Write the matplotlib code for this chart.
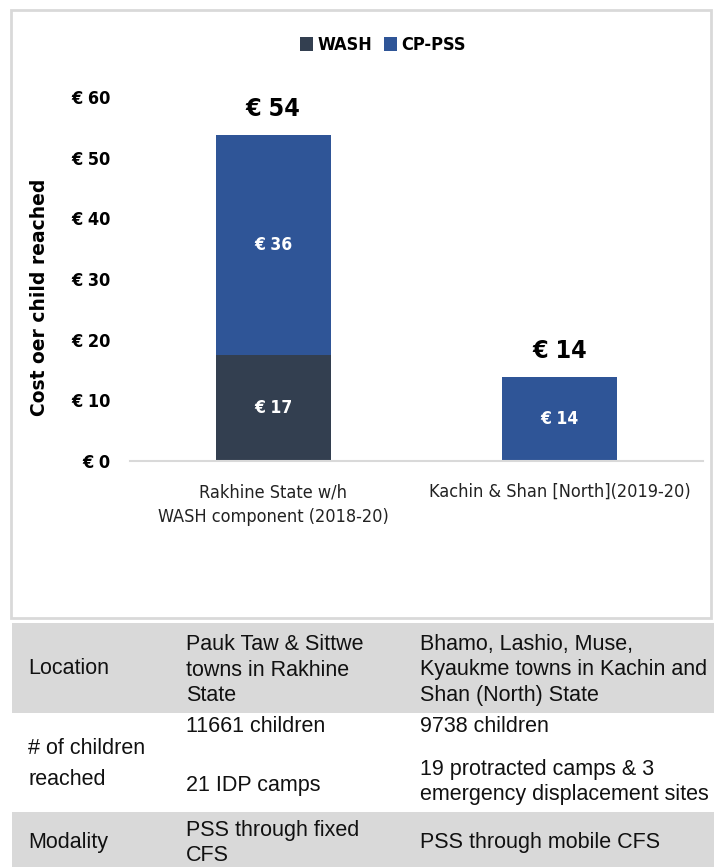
import matplotlib.pyplot as plt
from matplotlib.patches import Rectangle

# chart data
categories = ['Rakhine State w/h\nWASH component (2018-20)', 'Kachin & Shan [North](2019-20)']
wash = [17.4, 0.0]
cp_pss = [36.4, 13.8]
wash_labels = ['€ 17', '']
cp_labels = ['€ 36', '€ 14']
yticks = [0, 10, 20, 30, 40, 50, 60]

# table under the chart
row_heads = ['Location', '# of children\nreached', 'Modality']
col_rakhine = ['Pauk Taw & Sittwe\ntowns in Rakhine\nState', '11661 children', '21 IDP camps',
               'PSS through fixed\nCFS']
col_kachin = ['Bhamo, Lashio, Muse,\nKyaukme towns in Kachin and\nShan (North) State', '9738 children',
              '19 protracted camps & 3\nemergency displacement sites', 'PSS through mobile CFS']

c_wash = '#333f50'
c_cp = '#2f5597'
arial = ['Liberation Sans', 'DejaVu Sans']
cond = dict(fontfamily='DejaVu Sans', fontstretch='condensed')

W, H = 714, 867
fig = plt.figure(figsize=(W / 100, H / 100), dpi=100)

# outer frame of the chart
fig.patches.append(Rectangle((11 / W, 1 - 618 / H), 700 / W, 608 / H, transform=fig.transFigure,
                             facecolor='white', edgecolor='#d9d9d9', lw=2, zorder=-5))

ax = fig.add_axes([130 / W, 1 - 461 / H, 573 / W, 364 / H])
x = range(len(categories))
b1 = ax.bar(x, wash, width=0.4, color=c_wash, label='WASH')
b2 = ax.bar(x, cp_pss, width=0.4, bottom=wash, color=c_cp, label='CP-PSS')
ax.set_xlim(-0.5, 1.5)
ax.set_ylim(0, 60)
ax.set_yticks(yticks)
ax.set_yticklabels(['€ %d' % v for v in yticks], fontweight='bold', fontsize=13, **cond)
ax.set_xticks(list(x))
ax.set_xticklabels(categories, fontsize=13, color='#222222', linespacing=1.5, **cond)
ax.tick_params(axis='y', length=0, pad=14)
ax.tick_params(axis='x', length=0, pad=16)
for s in ['top', 'right', 'left']:
    ax.spines[s].set_visible(False)
ax.spines['bottom'].set_color('#d9d9d9')
ax.spines['bottom'].set_linewidth(1.5)
ax.patch.set_alpha(0)

for i in x:
    if wash[i] > 0:
        ax.text(i, wash[i] / 2, wash_labels[i], ha='center', va='center', color='white',
                fontweight='bold', fontsize=12.5, **cond)
    ax.text(i, wash[i] + cp_pss[i] / 2, cp_labels[i], ha='center', va='center', color='white',
            fontweight='bold', fontsize=12.5, **cond)
    total = wash[i] + cp_pss[i]
    ax.annotate('€ %d' % round(total), (i, total), xytext=(0, 10), textcoords='offset points',
                ha='center', va='bottom', fontweight='bold', fontsize=18, **cond)

fig.legend(handles=[b1, b2], loc='center', bbox_to_anchor=(383 / W, 1 - 45 / H), ncol=2,
           frameon=False, handlelength=0.7, handleheight=0.8, handletextpad=0.25, columnspacing=0.7,
           prop={'family': 'DejaVu Sans', 'stretch': 'condensed', 'weight': 'bold', 'size': 13})

fig.text(40 / W, 1 - 297 / H, 'Cost oer child reached', rotation=90, ha='center', va='center',
         fontweight='bold', fontsize=13.5, fontfamily='DejaVu Sans')

# table
tx = fig.add_axes([0, 0, 1, 1 - 618 / H])
tx.set_xlim(0, W)
tx.set_ylim(H, 618)
tx.axis('off')
tx.add_patch(Rectangle((12, 623), W - 12, 90, facecolor='#d9d9d9', lw=0))
tx.add_patch(Rectangle((12, 812), W - 12, 60, facecolor='#d9d9d9', lw=0))
tk = dict(fontfamily=arial, fontsize=15.5, va='center', ha='left', linespacing=1.3, color='#111111')
tx.text(28, 668, row_heads[0], **tk)
tx.text(28, 764, row_heads[1], fontfamily=arial, fontsize=15.5, va='center', ha='left',
        linespacing=1.6, color='#111111')
tx.text(28, 843, row_heads[2], **tk)
tx.text(186, 670, col_rakhine[0], **tk)
tx.text(186, 727, col_rakhine[1], **tk)
tx.text(186, 786, col_rakhine[2], **tk)
tx.text(186, 843, col_rakhine[3], **tk)
tx.text(420, 670, col_kachin[0], **tk)
tx.text(420, 727, col_kachin[1], **tk)
tx.text(420, 782, col_kachin[2], **tk)
tx.text(420, 843, col_kachin[3], **tk)

fig.savefig('out.png', dpi=100)
